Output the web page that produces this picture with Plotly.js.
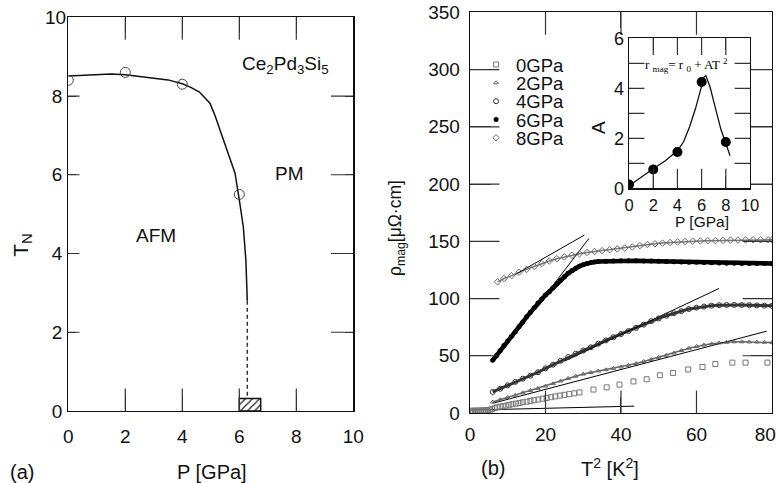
<!DOCTYPE html>
<html>
<head>
<meta charset="utf-8">
<script src="https://cdn.plot.ly/plotly-3.0.1.min.js"></script>
<style>html,body{margin:0;padding:0;background:#fff;}#chart{width:776px;height:483px;}</style>
</head>
<body>
<div id="chart"></div>
<script>
// ---- Panel (a): Neel temperature vs pressure ----
const pTN = [0, 2, 4, 6];
const tN = [8.4, 8.6, 8.3, 5.5];
const pFit = [0, 0.5, 1, 1.5, 2, 2.5, 3, 3.5, 4, 4.3, 4.6, 4.97, 5.15, 5.32, 5.5, 5.67, 5.85, 6.0, 6.14, 6.23, 6.28];
const tFit = [8.51, 8.53, 8.55, 8.56, 8.54, 8.5, 8.46, 8.41, 8.31, 8.22, 8.1, 7.82, 7.5, 7.14, 6.75, 6.38, 6.04, 5.36, 4.68, 3.84, 2.8];
const pDash = [6.28, 6.28];
const tDash = [2.8, 0.32];
const hatchP = [6.375];
const hatchT = [0.32];
const aTickVals = [0, 2, 4, 6, 8, 10];
const aTickText = ['0\u2009', '2\u2009', '4\u2009', '6\u2009', '8\u2009', '10'];
// tick-mark positions (panel a)
const aTickMarks = [2, 4, 6, 8];
const aEdgeLo = [0, 0, 0, 0];
const aEdgeHi = [10, 10, 10, 10];

// ---- Panel (b): rho_mag vs T^2 ----
const t2_0 = [0.3, 0.8, 1.3, 1.8, 2.3, 2.8, 3.3, 3.8, 4.3, 4.8, 5.3, 5.8, 6.5, 7.2, 8, 8.8, 9.6, 10.4, 11.3, 12.2, 13.1, 14, 15, 16, 17, 18.1, 19.2, 20.3, 21.4, 22.6, 23.8, 25, 26.3, 27.6, 29, 32.7, 36.2, 39.6, 43.3, 46.8, 50.3, 53.8, 57.8, 61.6, 65, 69.5, 73, 78.8];
const rho_0 = [2, 2, 2, 2.1, 2.1, 2.2, 2.2, 2.3, 2.4, 2.6, 2.9, 3.3, 4.2, 5, 5.6, 6, 6.5, 7.2, 7.7, 8.2, 8.8, 9.4, 9.9, 10.6, 11.2, 11.8, 12.5, 13.2, 13.8, 14.5, 15.2, 15.9, 16.5, 17.2, 18, 20.5, 22.4, 24.8, 27.6, 29.5, 33, 35, 38, 40.2, 42.8, 44, 44, 44];

const t2_dense = [6, 8, 10, 12, 14, 16, 18, 20, 22, 24, 26, 28, 30, 32, 34, 36, 38, 40, 42, 44, 46, 48, 50, 52, 54, 56, 58, 60, 62, 64, 66, 68, 70, 72, 74, 76, 78, 80];
const rho_2 = [9.6, 11.6, 13.6, 15.6, 17.6, 19.6, 21.5, 23.5, 25.6, 28, 30.2, 32.2, 34, 35.4, 36.7, 37.8, 39, 40.2, 41.6, 43.2, 45, 46.8, 48.6, 50.4, 52.4, 54.6, 56.6, 58.2, 59.4, 60.4, 61.2, 61.8, 62.2, 62.2, 62.1, 62, 61.8, 61.5];
const rho_4 = [18.4, 21.2, 24.2, 27.2, 30, 32.6, 35.6, 39, 42.2, 45.6, 48.9, 51.8, 54.6, 57.4, 60.6, 63.4, 66.2, 69, 71.6, 74.4, 77.2, 80.3, 82.6, 85, 87.2, 89, 90.8, 92, 93, 93.8, 94.2, 94.4, 94.4, 94.3, 94.2, 94, 93.8, 93.6];

const t2_6 = [6, 7, 8, 9, 10, 11, 12, 13, 14, 15, 16, 17, 18, 19, 20, 21, 22, 23, 24, 25, 26, 27, 28, 29, 30, 31, 32, 33, 34, 36, 38, 40, 42, 44, 46, 48, 50, 52, 54, 56, 58, 60, 62, 64, 66, 68, 70, 72, 74, 76, 78, 80];
const rho_6 = [46, 50, 54.5, 59, 63, 67, 71, 75.5, 79.5, 84, 88, 92, 96, 99.5, 103, 106, 109.5, 113, 116, 119, 122, 124.5, 126.5, 128.3, 129.6, 130.6, 131.4, 132, 132.3, 132.6, 132.8, 133, 133, 133, 132.8, 132.7, 132.5, 132.4, 132.2, 132, 131.8, 131.6, 131.4, 131.2, 131, 130.9, 130.8, 130.7, 130.6, 130.6, 130.6, 130.6];

const t2_8 = [7.3, 9, 11, 13, 15, 17, 19, 21, 23, 25, 27, 29, 31, 33, 35, 37, 39, 41, 43, 45, 47, 49, 51, 53, 55, 57, 59, 61, 63, 65, 67, 69, 71, 73, 75, 77, 79, 80];
const rho_8 = [114.6, 117.5, 120, 123, 125.5, 128, 130.5, 132.8, 134.8, 136.4, 137.8, 139.1, 140.2, 141.1, 141.8, 142.6, 143.3, 144.1, 145, 146.2, 147.2, 147.8, 148.4, 148.9, 149.4, 149.8, 150.1, 150.3, 150.5, 150.6, 150.8, 151, 151.1, 151.2, 151.3, 151.3, 151.3, 151.3];

// T^2 fit lines
const fit0X = [0, 43.5], fit0Y = [2.5, 6];
const fit2X = [6, 78.6], fit2Y = [8.5, 71.5];
const fit4X = [25, 66], fit4Y = [45.3, 108.8];
const fit6X = [20, 31.5], fit6Y = [103, 152.5];
const fit8X = [12, 30.3], fit8Y = [121, 155.4];
const bTickVals = [0, 20, 40, 60, 80];
const bTickText = ['0', '20', '40', '60', '80\u2002\u2009'];
// tick-mark positions (panel b)
const bTickMarksX = [20, 40, 60];
const bXLo = [0, 0, 0], bXHi = [350, 350, 350];
const bTickMarksY = [50, 100, 150, 200, 250, 300];
const bYLo = [0, 0, 0, 0, 0, 0], bYHi = [80, 80, 80, 80, 80, 80];

// ---- Inset: A vs P ----
const pA = [0, 2, 4, 6, 8];
const aVal = [0.15, 0.75, 1.45, 4.25, 1.85];
const pAFit = [0, 1, 2, 3, 4, 4.5, 5, 5.5, 5.8, 6.0, 6.2, 6.35, 6.7, 7.2, 7.6, 8.0, 8.35];
const aFit = [0.1, 0.45, 0.78, 1.1, 1.5, 1.85, 2.45, 3.2, 3.75, 4.15, 4.45, 4.5, 4.05, 3.1, 2.35, 1.8, 1.3];
// tick-mark positions (inset)
const iTickMarksX = [2, 4, 6, 8];
const iXLo = [0, 0, 0, 0], iXHi = [6, 6, 6, 6];
const iTickMarksY = [1, 2, 3, 4, 5];
const iYLo = [0, 0, 0, 0, 0], iYHi = [10, 10, 10, 10, 10];

const legendNames = ['0GPa', '2GPa', '4GPa', '6GPa', '8GPa'];
const legendRows = [65, 83.3, 101.7, 120, 138.3];

const FONT = 'Liberation Sans, Arial, Helvetica, sans-serif';
const TICKC = '#333';

// inward tick marks: a line marker centred on the frame, half of it clipped away by the plot area
function tickTrace(xs, ys, xa, ya, vertical, len) {
  return {x: xs, y: ys, xaxis: xa, yaxis: ya, mode: 'markers', showlegend: false, hoverinfo: 'skip',
          marker: {symbol: vertical ? 'line-ns' : 'line-ew', size: 2 * len, color: TICKC, line: {color: TICKC, width: 1.2}}};
}

const traces = [
  // panel a
  {x: pFit, y: tFit, xaxis: 'x', yaxis: 'y', mode: 'lines', line: {color: '#111', width: 1.5}, showlegend: false},
  {x: pDash, y: tDash, xaxis: 'x', yaxis: 'y', mode: 'lines', line: {color: '#333', width: 1.5, dash: '4px,3px'}, showlegend: false},
  {x: hatchP, y: hatchT, xaxis: 'x', yaxis: 'y', type: 'bar', width: 0.75, showlegend: false,
   marker: {color: '#fff', line: {color: '#111', width: 1.5}, pattern: {shape: '/', fgcolor: '#222', bgcolor: '#fff', size: 5, solidity: 0.25}}},
  {x: pTN, y: tN, xaxis: 'x', yaxis: 'y', mode: 'markers', showlegend: false,
   marker: {symbol: 'circle-open', size: 10, color: '#444', line: {width: 1}}},
  tickTrace(aTickMarks, aEdgeLo, 'x', 'y', true, 16),
  tickTrace(aTickMarks, aEdgeHi, 'x', 'y', true, 16),
  tickTrace(aEdgeLo, aTickMarks, 'x', 'y', false, 8),
  tickTrace(aEdgeHi, aTickMarks, 'x', 'y', false, 16),

  // panel b: band lines
  {x: t2_dense, y: rho_2, xaxis: 'x2', yaxis: 'y2', mode: 'lines', line: {color: '#666', width: 1.5}, showlegend: false},
  {x: t2_dense, y: rho_4, xaxis: 'x2', yaxis: 'y2', mode: 'lines', line: {color: '#333', width: 3}, showlegend: false},
  {x: t2_6, y: rho_6, xaxis: 'x2', yaxis: 'y2', mode: 'lines', line: {color: '#000', width: 4.5}, showlegend: false},
  {x: t2_8, y: rho_8, xaxis: 'x2', yaxis: 'y2', mode: 'lines', line: {color: '#777', width: 1.5}, showlegend: false},
  // fit lines
  {x: fit0X, y: fit0Y, xaxis: 'x2', yaxis: 'y2', mode: 'lines', line: {color: '#000', width: 1}, showlegend: false},
  {x: fit2X, y: fit2Y, xaxis: 'x2', yaxis: 'y2', mode: 'lines', line: {color: '#000', width: 1}, showlegend: false},
  {x: fit4X, y: fit4Y, xaxis: 'x2', yaxis: 'y2', mode: 'lines', line: {color: '#000', width: 1}, showlegend: false},
  {x: fit6X, y: fit6Y, xaxis: 'x2', yaxis: 'y2', mode: 'lines', line: {color: '#000', width: 1}, showlegend: false},
  {x: fit8X, y: fit8Y, xaxis: 'x2', yaxis: 'y2', mode: 'lines', line: {color: '#000', width: 1}, showlegend: false},
  // data markers (each in its own legend so rows can be spaced like the original)
  {x: t2_0, y: rho_0, xaxis: 'x2', yaxis: 'y2', mode: 'markers', name: legendNames[0], legend: 'legend',
   marker: {symbol: 'square-open', size: 5, color: '#777', line: {width: 1}}},
  {x: t2_dense, y: rho_2, xaxis: 'x2', yaxis: 'y2', mode: 'markers', name: legendNames[1], legend: 'legend2',
   marker: {symbol: 'triangle-up-open', size: 4, color: '#666', line: {width: 1}}},
  {x: t2_dense, y: rho_4, xaxis: 'x2', yaxis: 'y2', mode: 'markers', name: legendNames[2], legend: 'legend3',
   marker: {symbol: 'circle-open', size: 5, color: '#333', line: {width: 1}}},
  {x: t2_6, y: rho_6, xaxis: 'x2', yaxis: 'y2', mode: 'markers', name: legendNames[3], legend: 'legend4',
   marker: {symbol: 'circle', size: 5, color: '#000'}},
  {x: t2_8, y: rho_8, xaxis: 'x2', yaxis: 'y2', mode: 'markers', name: legendNames[4], legend: 'legend5',
   marker: {symbol: 'diamond-open', size: 5, color: '#666', line: {width: 1}}},
  tickTrace(bTickMarksX, bXLo, 'x2', 'y2', true, 16),
  tickTrace(bTickMarksX, bXHi, 'x2', 'y2', true, 16),
  tickTrace(bYLo, bTickMarksY, 'x2', 'y2', false, 21),
  tickTrace(bYHi, bTickMarksY, 'x2', 'y2', false, 21),

  // inset
  {x: pAFit, y: aFit, xaxis: 'x3', yaxis: 'y3', mode: 'lines', line: {color: '#111', width: 1.3}, showlegend: false},
  {x: pA, y: aVal, xaxis: 'x3', yaxis: 'y3', mode: 'markers', showlegend: false,
   marker: {symbol: 'circle', size: 10, color: '#000'}},
  tickTrace(iTickMarksX, iXLo, 'x3', 'y3', true, 14),
  tickTrace(iTickMarksX, iXHi, 'x3', 'y3', true, 12),
  tickTrace(iYLo, iTickMarksY, 'x3', 'y3', false, 11),
  tickTrace(iYHi, iTickMarksY, 'x3', 'y3', false, 11)
];

const axBase = {showgrid: false, zeroline: false, showline: true, linecolor: '#111', linewidth: 1.3,
                ticks: 'inside', tickcolor: TICKC};

function legendAt(rowY) {
  return {x: 0.6135, y: 1 - rowY / 483, xanchor: 'left', yanchor: 'middle', bgcolor: 'rgba(0,0,0,0)',
          font: {family: FONT, size: 18.5, color: '#111'}, itemwidth: 30};
}

const layout = {
  width: 776, height: 483,
  margin: {l: 0, r: 0, t: 0, b: 0},
  font: {family: FONT, color: '#111', size: 19},
  showlegend: true,
  bargap: 0,
  hovermode: false,
  legend: legendAt(legendRows[0]), legend2: legendAt(legendRows[1]), legend3: legendAt(legendRows[2]),
  legend4: legendAt(legendRows[3]), legend5: legendAt(legendRows[4]),
  xaxis: Object.assign({}, axBase, {domain: [0.0880, 0.4553], range: [0, 10], dtick: 2, anchor: 'y',
          mirror: 'ticks', ticklen: 16, ticklabelstandoff: 8}),
  yaxis: Object.assign({}, axBase, {domain: [0.1491, 0.9642], range: [0, 10], anchor: 'x',
          tickvals: aTickVals, ticktext: aTickText, mirror: 'ticks', ticklen: 8, ticklabelstandoff: -3}),
  xaxis2: Object.assign({}, axBase, {domain: [0.6057, 0.9948], range: [0, 80], anchor: 'y2',
          tickvals: bTickVals, ticktext: bTickText, ticklabeloverflow: 'allow',
          mirror: 'ticks', ticklen: 16, ticklabelstandoff: 4}),
  yaxis2: Object.assign({}, axBase, {domain: [0.1449, 0.9745], range: [0, 350], dtick: 50, anchor: 'x2',
          mirror: 'ticks', ticklen: 21, ticklabelstandoff: 5}),
  xaxis3: Object.assign({}, axBase, {domain: [0.8106, 0.9665], range: [0, 10], dtick: 2, anchor: 'y3',
          mirror: 'ticks', ticklen: 12, ticklabelstandoff: 2, tickfont: {size: 16.5}}),
  yaxis3: Object.assign({}, axBase, {domain: [0.6101, 0.9207], range: [0, 6], dtick: 1, anchor: 'x3',
          mirror: 'ticks', ticklen: 11, tickvals: [0, 1, 2, 3, 4, 5, 6], ticktext: ['0', ' ', '2', ' ', '4', ' ', '6'],
          tickfont: {size: 18}}),
  annotations: [
    {text: '(a)', xref: 'paper', yref: 'paper', x: 0.0284, y: 0.0228, showarrow: false, font: {size: 20}, xanchor: 'center', yanchor: 'middle'},
    {text: 'P [GPa]', xref: 'paper', yref: 'paper', x: 0.2732, y: 0.0228, showarrow: false, font: {size: 20}, xanchor: 'center', yanchor: 'middle'},
    {text: '(b)', xref: 'paper', yref: 'paper', x: 0.6353, y: 0.0311, showarrow: false, font: {size: 20}, xanchor: 'center', yanchor: 'middle'},
    {text: 'T<sup>2</sup> [K<sup>2</sup>]', xref: 'paper', yref: 'paper', x: 0.786, y: 0.0311, showarrow: false, font: {size: 20}, xanchor: 'center', yanchor: 'middle'},
    {text: 'T<sub>N</sub>', xref: 'paper', yref: 'paper', x: 0.028, y: 0.4928, showarrow: false, font: {size: 21}, textangle: -90, xanchor: 'center', yanchor: 'middle'},
    {text: 'ρ<sub>mag</sub>[μΩ·cm]', xref: 'paper', yref: 'paper', x: 0.5116, y: 0.528, showarrow: false, font: {size: 17.5}, textangle: -90, xanchor: 'center', yanchor: 'middle'},
    {text: 'A', xref: 'paper', yref: 'paper', x: 0.772, y: 0.735, showarrow: false, font: {size: 19}, textangle: -90, xanchor: 'center', yanchor: 'middle'},
    {text: 'P [GPa]', xref: 'paper', yref: 'paper', x: 0.9046, y: 0.5415, showarrow: false, font: {size: 15.5}, xanchor: 'center', yanchor: 'middle'},
    {text: 'r <sub>mag</sub>= r <sub>0</sub> + AT <sup>2</sup>', xref: 'paper', yref: 'paper', x: 0.885, y: 0.8654, showarrow: false,
     font: {family: 'Liberation Serif, Times New Roman, serif', size: 13, color: '#000'}, xanchor: 'center', yanchor: 'middle'},
    {text: 'Ce<sub>2</sub>Pd<sub>3</sub>Si<sub>5</sub>', xref: 'x', yref: 'y', x: 7.63, y: 8.79, showarrow: false, font: {size: 19}, xanchor: 'center', yanchor: 'middle'},
    {text: 'PM', xref: 'x', yref: 'y', x: 7.75, y: 6.04, showarrow: false, font: {size: 19}, xanchor: 'center', yanchor: 'middle'},
    {text: 'AFM', xref: 'x', yref: 'y', x: 3.06, y: 4.47, showarrow: false, font: {size: 19}, xanchor: 'center', yanchor: 'middle'}
  ]
};

Plotly.newPlot('chart', traces, layout, {staticPlot: true, displayModeBar: false});
</script>
</body>
</html>
